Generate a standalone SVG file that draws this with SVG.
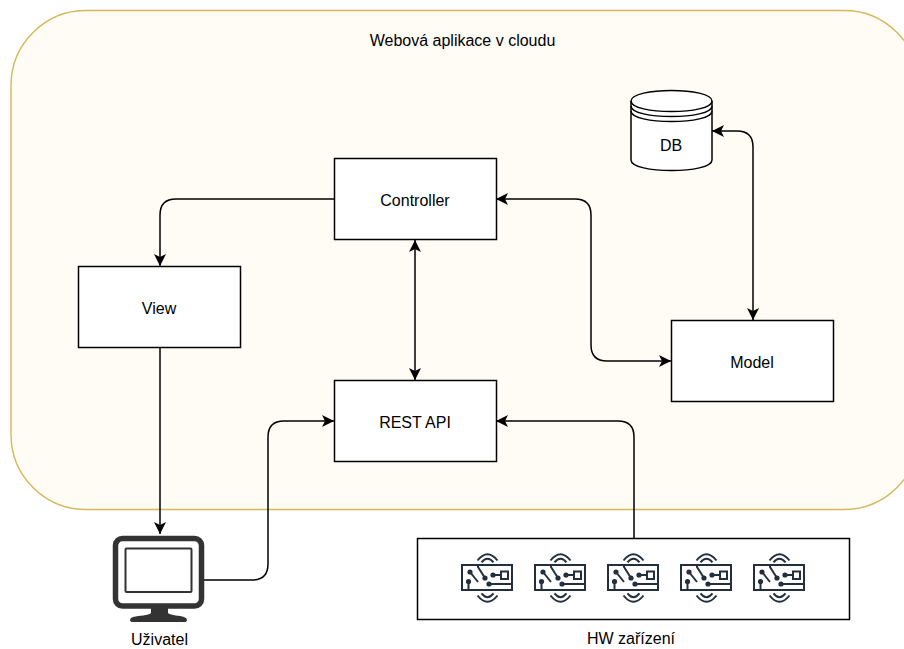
<svg xmlns="http://www.w3.org/2000/svg" width="904" height="649" viewBox="0 0 904 649">
<style>
text{font-family:"Liberation Sans",Arial,sans-serif;font-size:16px;fill:#000;text-anchor:middle}
.box{fill:#fff;stroke:#000;stroke-width:1.500}
.c{fill:none;stroke:#000;stroke-width:1.500}
.e{marker-end:url(#a)}
.b{marker-end:url(#a);marker-start:url(#s)}
.ic{fill:none;stroke:#232f3e;stroke-width:2}
.icf{fill:#232f3e;stroke:none}
</style>
<defs>
<marker id="a" markerUnits="userSpaceOnUse" markerWidth="14" markerHeight="12" refX="12" refY="6" orient="auto"><path d="M0 0L12 6L0 12L3 6Z" fill="#000"/></marker>
<marker id="s" markerUnits="userSpaceOnUse" markerWidth="14" markerHeight="12" refX="0" refY="6" orient="auto"><path d="M12 0L0 6L12 12L9 6Z" fill="#000"/></marker>
<g id="chip">
<rect class="ic" x="0" y="0" width="50" height="25"/>
<path class="ic" d="M16 0V2L23 13M8 7L16 17M6.500 16V25M31 10H39M27 19H50"/>
<rect class="ic" x="39" y="6.500" width="7" height="7.500"/>
<circle class="icf" cx="8" cy="7" r="2.600"/><circle class="icf" cx="23" cy="13" r="2.600"/><circle class="icf" cx="6.500" cy="16.500" r="2.600"/><circle class="icf" cx="31" cy="10" r="2.600"/><circle class="icf" cx="27" cy="19" r="2.600"/>
<path class="ic" d="M15.500 -4.500Q25.500 -17 35.500 -4.500M19.500 -2.700Q25.500 -10 31.500 -2.700M15.500 30.500Q25.500 43 35.500 30.500M19.500 28.300Q25.500 36 31.500 28.300"/>
</g>
</defs>
<g id="cloud"><rect x="11" y="10.500" width="908" height="499" rx="75" fill="#fffcf6" stroke="#d6b656" stroke-width="1.400"/><text x="462.500" y="45.500">Webová aplikace v cloudu</text></g>
<g id="connectors">
<path class="c e" d="M334 199H176Q160 199 160 215V266"/>
<path class="c b" d="M415 240V380"/>
<path class="c b" d="M496 199H575Q591 199 591 215V345Q591 361 607 361H671"/>
<path class="c b" d="M712 131H737Q753 131 753 147V320"/>
<path class="c e" d="M160 347V534"/>
<path class="c e" d="M204 580H252Q268 580 268 564V437Q268 421 284 421H334"/>
<path class="c e" d="M634 538V437Q634 421 618 421H496"/>
</g>
<g id="controller"><rect class="box" x="334.500" y="158.500" width="162" height="81"/><text x="415" y="205.500">Controller</text></g>
<g id="view"><rect class="box" x="78.500" y="266.500" width="162" height="81"/><text x="159" y="313.500">View</text></g>
<g id="restapi"><rect class="box" x="334.500" y="380.500" width="162" height="81"/><text x="415" y="427.500">REST API</text></g>
<g id="model"><rect class="box" x="671.500" y="320.500" width="162" height="81"/><text x="752" y="367.500">Model</text></g>
<g id="db">
<path class="box" d="M631 101C631 87 712 87 712 101V160C712 174 631 174 631 160Z"/>
<path class="c" d="M631 101C631 115 712 115 712 101M631 106C631 120 712 120 712 106M631 111C631 125 712 125 712 111"/>
<text x="671" y="151">DB</text>
</g>
<g id="user">
<rect x="115.500" y="538.500" width="86" height="67.500" rx="7" fill="#fff" stroke="#333" stroke-width="5.500"/>
<rect x="125.500" y="548.500" width="66" height="43.500" rx="1" fill="#fff" stroke="#333" stroke-width="2"/>
<path d="M151 608H168V613C171 616 180 615 184 617Q187 618 187 620Q187 622 184 622H133Q130 622 130 620Q130 618 133 617C140 615 148 616 151 613Z" fill="#333"/>
<text x="159.500" y="645">Uživatel</text>
</g>
<g id="hw">
<rect class="box" x="417.500" y="538.500" width="432" height="81"/>
<use href="#chip" x="462" y="565"/><use href="#chip" x="535" y="565"/><use href="#chip" x="608" y="565"/><use href="#chip" x="681" y="565"/><use href="#chip" x="754" y="565"/>
<text x="631" y="644">HW zařízení</text>
</g>
</svg>
